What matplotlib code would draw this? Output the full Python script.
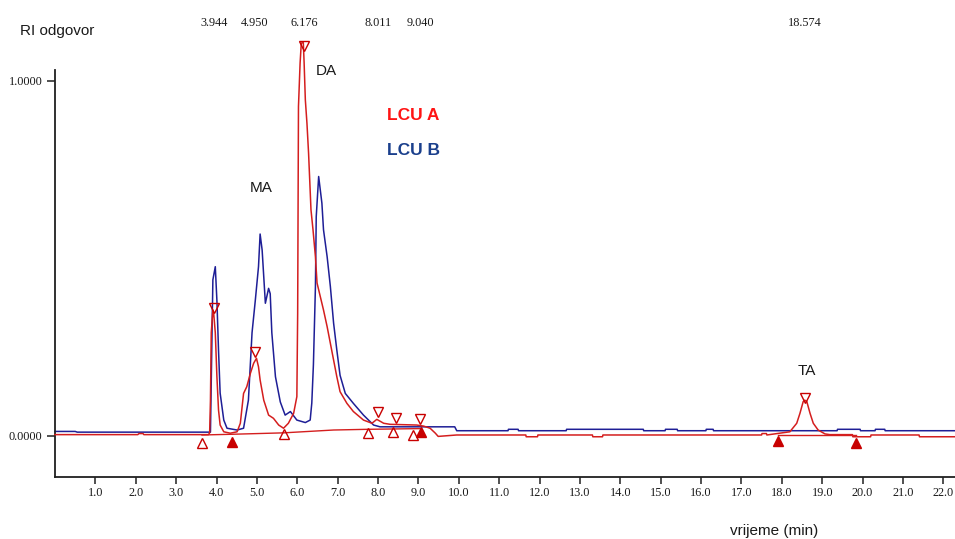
import matplotlib
matplotlib.use("Agg")
import matplotlib.pyplot as plt
import matplotlib.transforms as mtransforms

# ---- chromatogram traces (time in min, RI response) ----
lcu_b_t = [0.0, 0.50, 0.55, 3.85, 3.91, 3.97, 4.01, 4.05, 4.09, 4.18, 4.26, 4.51,
           4.67, 4.79, 4.88, 4.96, 5.04, 5.08, 5.13, 5.21, 5.29, 5.33, 5.37, 5.46,
           5.58, 5.70, 5.83, 5.99, 6.20, 6.32, 6.36, 6.40, 6.45, 6.47, 6.53, 6.61,
           6.65, 6.74, 6.82, 6.90, 6.98, 7.06, 7.19, 7.39, 7.64, 7.89, 8.05, 9.90,
           9.95, 11.22, 11.23, 11.47, 11.48, 12.66, 12.67, 14.57, 14.58, 15.11,
           15.12, 15.41, 15.42, 16.12, 16.13, 16.30, 16.31, 19.37, 19.38, 19.94,
           19.95, 20.31, 20.32, 20.55, 20.56, 22.40]
lcu_b_v = [0.012, 0.012, 0.010, 0.010, 0.439, 0.476, 0.380, 0.240, 0.120, 0.044,
           0.021, 0.016, 0.021, 0.100, 0.290, 0.380, 0.476, 0.568, 0.523, 0.373,
           0.415, 0.400, 0.290, 0.166, 0.095, 0.058, 0.068, 0.044, 0.037, 0.044,
           0.092, 0.200, 0.420, 0.617, 0.730, 0.655, 0.580, 0.504, 0.420, 0.317,
           0.241, 0.170, 0.119, 0.091, 0.058, 0.030, 0.025, 0.025, 0.014, 0.014,
           0.018, 0.018, 0.014, 0.014, 0.018, 0.018, 0.014, 0.014, 0.018, 0.018,
           0.014, 0.014, 0.018, 0.018, 0.014, 0.014, 0.018, 0.018, 0.014, 0.014,
           0.018, 0.018, 0.014, 0.014]

lcu_a_t = [0.0, 2.05, 2.08, 2.18, 2.20, 3.80, 3.83, 3.85, 3.87, 3.91, 3.93, 3.97,
           4.01, 4.05, 4.09, 4.18, 4.34, 4.51, 4.59, 4.67, 4.75, 4.84, 4.92, 4.99,
           5.04, 5.08, 5.17, 5.29, 5.41, 5.54, 5.66, 5.78, 5.91, 5.99, 6.01, 6.03,
           6.07, 6.10, 6.15, 6.17, 6.20, 6.24, 6.28, 6.34, 6.39, 6.45, 6.49, 6.57,
           6.65, 6.74, 6.82, 6.90, 6.98, 7.06, 7.23, 7.39, 7.64, 7.85, 7.97, 8.14,
           8.30, 8.96, 9.13, 9.29, 9.42, 9.49, 9.95, 11.66, 11.67, 11.95, 11.96,
           13.31, 13.32, 13.56, 13.57, 17.50, 17.51, 17.62, 17.63, 18.20, 18.37,
           18.45, 18.53, 18.57, 18.62, 18.70, 18.78, 18.90, 19.07, 19.19, 19.75,
           19.76, 20.20, 20.21, 21.40, 21.41, 22.40]
lcu_a_v = [0.003, 0.003, 0.006, 0.006, 0.003, 0.003, 0.008, 0.100, 0.290, 0.354,
           0.345, 0.290, 0.166, 0.072, 0.030, 0.011, 0.007, 0.011, 0.035, 0.119,
           0.138, 0.176, 0.204, 0.218, 0.194, 0.157, 0.100, 0.058, 0.049, 0.030,
           0.021, 0.035, 0.063, 0.110, 0.345, 0.927, 1.049, 1.106, 1.107, 1.050,
           0.946, 0.880, 0.796, 0.636, 0.580, 0.504, 0.430, 0.392, 0.354, 0.307,
           0.260, 0.213, 0.166, 0.124, 0.091, 0.068, 0.044, 0.035, 0.046, 0.035,
           0.032, 0.030, 0.027, 0.021, 0.007, -0.002, 0.002, 0.002, -0.003,
           -0.003, 0.002, 0.002, -0.003, -0.003, 0.002, 0.002, 0.006, 0.006, 0.002,
           0.011, 0.035, 0.063, 0.096, 0.100, 0.096, 0.063, 0.035, 0.016, 0.005,
           0.003, 0.003, -0.003, -0.003, 0.002, 0.002, -0.003, -0.003]

# integration baselines of LCU A
base1_t = [3.64, 4.38, 5.66, 6.90, 7.75, 9.07]
base1_v = [0.002, 0.004, 0.008, 0.016, 0.018, 0.020]
base2_t = [17.91, 19.83]
base2_v = [0.002, 0.002]

# peak apex marks, start/end marks and valley marks
apex_t = [3.944, 4.950, 6.176, 8.011, 8.45, 9.040, 18.574]
apex_v = [0.360, 0.237, 1.098, 0.068, 0.051, 0.047, 0.106]
edge_t = [3.64, 5.66, 7.75, 8.38, 8.86]
edge_v = [-0.021, 0.005, 0.008, 0.010, 0.002]
valley_t = [4.38, 9.07, 17.91, 19.83]
valley_v = [-0.018, 0.009, -0.015, -0.021]

rt_labels = ["3.944", "4.950", "6.176", "8.011", "9.040", "18.574"]
rt_values = [3.944, 4.950, 6.176, 8.011, 9.040, 18.574]

xticks = [1.0, 2.0, 3.0, 4.0, 5.0, 6.0, 7.0, 8.0, 9.0, 10.0, 11.0, 12.0, 13.0,
          14.0, 15.0, 16.0, 17.0, 18.0, 19.0, 20.0, 21.0, 22.0]
yticks = [0.0, 1.0]

RED = "#d41e1e"
BLUE = "#1e1e96"
MARK = "#c80000"
INK = "#1a1a1a"

W, H = 955, 539
fig = plt.figure(figsize=(W / 100, H / 100), dpi=100)
ax = fig.add_axes([55 / W, 1 - 476.7 / H, 1 - 55 / W, (476.7 - 70) / H])
ax.set_xlim(0, 22.29)
ax.set_ylim(-0.1155, 1.030)

ax.plot(lcu_b_t, lcu_b_v, color=BLUE, lw=1.1, clip_on=False, zorder=2)
ax.plot(lcu_a_t, lcu_a_v, color=RED, lw=1.1, clip_on=False, zorder=3)
ax.plot(base1_t, base1_v, color=RED, lw=1.0, clip_on=False, zorder=3)
ax.plot(base2_t, base2_v, color=RED, lw=1.0, clip_on=False, zorder=3)

ax.plot(apex_t, apex_v, ls="none", marker="v", ms=7, mfc="none", mec=MARK,
        mew=1.0, clip_on=False, zorder=4)
ax.plot(edge_t, edge_v, ls="none", marker="^", ms=7, mfc="none", mec=MARK,
        mew=1.0, clip_on=False, zorder=4)
ax.plot(valley_t, valley_v, ls="none", marker="^", ms=7, mfc=MARK, mec=MARK,
        mew=1.0, clip_on=False, zorder=4)

for s in ("top", "right"):
    ax.spines[s].set_visible(False)
for s in ("left", "bottom"):
    ax.spines[s].set_color("#202020")
    ax.spines[s].set_linewidth(1.3)

tick_font = dict(family=["Liberation Serif", "DejaVu Serif"], size=8.8,
                 color=INK)
ax.set_xticks(xticks)
ax.set_xticklabels([f"{v:.1f}" for v in xticks], **tick_font)
ax.set_yticks(yticks)
ax.set_yticklabels([f"{v:.4f}" for v in yticks], **tick_font)
ax.tick_params(axis="x", length=5, width=1.1, pad=2.5, color="#202020")
ax.tick_params(axis="y", length=6, width=1.1, pad=3, color="#202020")

# retention times above the peaks
top_tr = mtransforms.blended_transform_factory(ax.transData, fig.transFigure)
for lab, x in zip(rt_labels, rt_values):
    ax.text(x, 1 - 26 / H, lab, transform=top_tr, ha="center", va="baseline",
            **tick_font)

sans = ["Liberation Sans", "DejaVu Sans"]
fig.text(20 / W, 1 - 35.5 / H, "RI odgovor", family=sans, size=11,
         color=INK, va="baseline", ha="left")
fig.text(730 / W, 1 - 535 / H, "vrijeme (min)", family=sans, size=11,
         color=INK, va="baseline", ha="left")

ax.text(6.45, 1.016, "DA", family=sans, size=11, color=INK,
        va="baseline", ha="left")
ax.text(4.82, 0.685, "MA", family=sans, size=11, color=INK,
        va="baseline", ha="left")
ax.text(18.40, 0.171, "TA", family=sans, size=11, color=INK,
        va="baseline", ha="left")
ax.text(8.22, 0.889, "LCU A", family=sans, size=12.5, weight="bold",
        color="#ff1414", va="baseline", ha="left")
ax.text(8.22, 0.790, "LCU B", family=sans, size=12.5, weight="bold",
        color="#1a3f8c", va="baseline", ha="left")

fig.savefig("out.png", dpi=100, facecolor="white")
